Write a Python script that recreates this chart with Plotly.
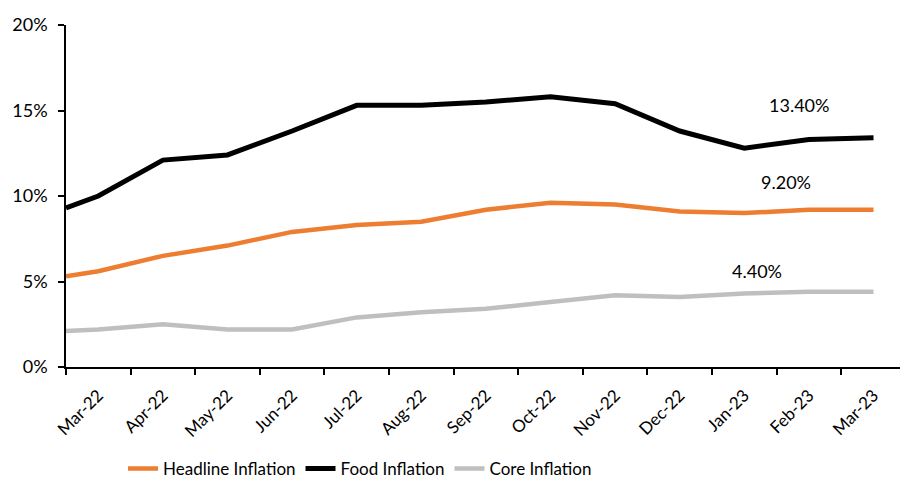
import plotly.graph_objects as go

months = ["Mar-22", "Apr-22", "May-22", "Jun-22", "Jul-22", "Aug-22", "Sep-22",
          "Oct-22", "Nov-22", "Dec-22", "Jan-23", "Feb-23", "Mar-23"]
# x positions: leading point sits at the axis start, then one point per month
x_pos = [-0.5] + list(range(len(months)))
headline = [5.3, 5.6, 6.5, 7.1, 7.9, 8.3, 8.5, 9.2, 9.6, 9.5, 9.1, 9.0, 9.2, 9.2]
food = [9.3, 10.0, 12.1, 12.4, 13.8, 15.3, 15.3, 15.5, 15.8, 15.4, 13.8, 12.8, 13.3, 13.4]
core = [2.1, 2.2, 2.5, 2.2, 2.2, 2.9, 3.2, 3.4, 3.8, 4.2, 4.1, 4.3, 4.4, 4.4]
y_ticks = [0, 5, 10, 15, 20]

FONT = "Lato, 'Open Sans', sans-serif"
fig = go.Figure()
series = [("Headline Inflation", headline, "#ED7D31", 4.5),
          ("Food Inflation", food, "#000000", 5),
          ("Core Inflation", core, "#BFBFBF", 4.5)]
for name, vals, col, w in series:
    fig.add_trace(go.Scatter(x=x_pos, y=vals, mode="lines", name=name,
                             line=dict(color=col, width=w), hoverinfo="skip"))

ann = [(food, 10.84, 15.3), (headline, 10.65, 10.8), (core, 10.2, 5.6)]
for vals, ax, ay in ann:
    fig.add_annotation(x=ax, y=ay, text=f"{vals[-1]:.2f}%", showarrow=False,
                       font=dict(size=18, color="#000000", family=FONT))

fig.update_layout(
    width=900, height=480,
    margin=dict(l=66, r=0, t=25, b=113),
    paper_bgcolor="white", plot_bgcolor="white",
    font=dict(family=FONT, size=17, color="#000000"),
    showlegend=True,
    legend=dict(orientation="h", xref="container", yref="container",
                x=0.4, xanchor="center", y=0.023, yanchor="middle",
                font=dict(size=17), itemwidth=30),
    xaxis=dict(range=[-0.5, 12.41], tickmode="array",
               tickvals=list(range(len(months))), ticktext=months,
               tickangle=-45, ticks="", showgrid=False, zeroline=False,
               showline=True, linecolor="#000000", linewidth=1.5,
               ticklabelstandoff=10, tickfont=dict(size=17),
               minor=dict(tickmode="array",
                          tickvals=[i - 0.5 for i in range(len(months))],
                          ticks="outside", ticklen=6, tickwidth=1.5,
                          tickcolor="#000000", showgrid=False)),
    yaxis=dict(range=[0, 20], tickmode="array", tickvals=y_ticks,
               ticktext=[f"{v}%" for v in y_ticks],
               ticks="outside", ticklen=6, tickwidth=1.5, tickcolor="#000000",
               ticklabelstandoff=7, tickfont=dict(size=18),
               showgrid=False, zeroline=False, showline=True,
               linecolor="#000000", linewidth=1.5),
)
fig.write_html("out.html")
